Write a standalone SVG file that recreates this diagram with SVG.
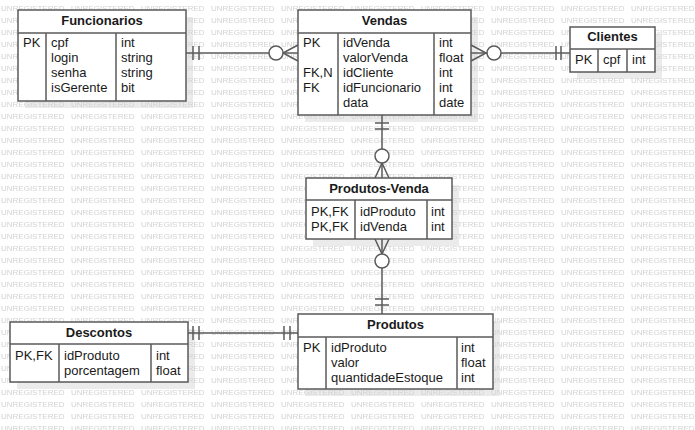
<svg xmlns="http://www.w3.org/2000/svg" width="695" height="430" viewBox="0 0 695 430">
<defs>
<pattern id="wm" x="0" y="0" width="70" height="12" patternUnits="userSpaceOnUse">
<text x="1" y="11" font-family="Liberation Sans, Arial, sans-serif" font-size="8" fill="#d2d2d2">UNREGISTERED</text>
</pattern>
<style>
.box{fill:#fff;stroke:#5a5a5a;stroke-width:1.5}
.sh{fill:#ebebeb}
.ln{stroke:#5a5a5a;stroke-width:1.5;fill:none}
.t{font-family:"Liberation Sans",Arial,sans-serif;font-size:13px;fill:#1a1a1a}
.h{font-family:"Liberation Sans",Arial,sans-serif;font-size:13px;font-weight:bold;fill:#1a1a1a;text-anchor:middle}
.c{fill:#fff;stroke:#5a5a5a;stroke-width:1.5}
</style>
</defs>
<rect width="695" height="430" fill="#fff"/>
<g id="shadows">
<rect class="sh" x="25" y="17" width="168" height="91"/>
<rect class="sh" x="305" y="17" width="173" height="105"/>
<rect class="sh" x="577" y="34" width="85" height="45"/>
<rect class="sh" x="313" y="185" width="146" height="61"/>
<rect class="sh" x="17" y="329" width="178" height="60"/>
<rect class="sh" x="305" y="321" width="195" height="75"/>
</g>
<rect width="695" height="430" fill="url(#wm)"/>
<g id="connectors">
<line class="ln" x1="186" y1="53" x2="298" y2="53"/>
<line class="ln" x1="193" y1="46" x2="193" y2="60"/>
<line class="ln" x1="199" y1="46" x2="199" y2="60"/>
<polyline class="ln" points="298,45 283,53 298,61"/>
<circle class="c" cx="276" cy="53" r="7"/>
<line class="ln" x1="471" y1="53" x2="570" y2="53"/>
<polyline class="ln" points="471,45 486,53 471,61"/>
<circle class="c" cx="494" cy="53" r="7"/>
<line class="ln" x1="556" y1="46" x2="556" y2="60"/>
<line class="ln" x1="561" y1="46" x2="561" y2="60"/>
<line class="ln" x1="382" y1="115" x2="382" y2="178"/>
<line class="ln" x1="375" y1="123" x2="389" y2="123"/>
<line class="ln" x1="375" y1="129" x2="389" y2="129"/>
<polyline class="ln" points="375,178 382,163 389,178"/>
<circle class="c" cx="382" cy="156" r="7"/>
<line class="ln" x1="382" y1="239" x2="382" y2="314"/>
<polyline class="ln" points="375,239 382,254 389,239"/>
<circle class="c" cx="382" cy="261" r="7"/>
<line class="ln" x1="375" y1="299" x2="389" y2="299"/>
<line class="ln" x1="375" y1="305" x2="389" y2="305"/>
<line class="ln" x1="188" y1="333" x2="298" y2="333"/>
<line class="ln" x1="193" y1="326" x2="193" y2="340"/>
<line class="ln" x1="199" y1="326" x2="199" y2="340"/>
<line class="ln" x1="284" y1="326" x2="284" y2="340"/>
<line class="ln" x1="290" y1="326" x2="290" y2="340"/>
</g>
<g id="Funcionarios">
<rect class="box" x="18" y="10" width="168" height="91"/>
<line class="ln" x1="18" y1="33" x2="186" y2="33"/>
<line class="ln" x1="46" y1="33" x2="46" y2="101"/>
<line class="ln" x1="116" y1="33" x2="116" y2="101"/>
<text class="h" x="102" y="25">Funcionarios</text>
<text class="t" x="23" y="47">PK</text>
<text class="t" x="51" y="47">cpf</text>
<text class="t" x="51" y="62">login</text>
<text class="t" x="51" y="77">senha</text>
<text class="t" x="51" y="92">isGerente</text>
<text class="t" x="121" y="47">int</text>
<text class="t" x="121" y="62">string</text>
<text class="t" x="121" y="77">string</text>
<text class="t" x="121" y="92">bit</text>
</g>
<g id="Vendas">
<rect class="box" x="298" y="10" width="173" height="105"/>
<line class="ln" x1="298" y1="33" x2="471" y2="33"/>
<line class="ln" x1="338" y1="33" x2="338" y2="115"/>
<line class="ln" x1="434" y1="33" x2="434" y2="115"/>
<text class="h" x="384.5" y="25">Vendas</text>
<text class="t" x="303" y="47">PK</text>
<text class="t" x="303" y="77">FK,N</text>
<text class="t" x="303" y="92">FK</text>
<text class="t" x="343" y="47">idVenda</text>
<text class="t" x="343" y="62">valorVenda</text>
<text class="t" x="343" y="77">idCliente</text>
<text class="t" x="343" y="92">idFuncionario</text>
<text class="t" x="343" y="107">data</text>
<text class="t" x="439" y="47">int</text>
<text class="t" x="439" y="62">float</text>
<text class="t" x="439" y="77">int</text>
<text class="t" x="439" y="92">int</text>
<text class="t" x="439" y="107">date</text>
</g>
<g id="Clientes">
<rect class="box" x="570" y="27" width="85" height="45"/>
<line class="ln" x1="570" y1="49" x2="655" y2="49"/>
<line class="ln" x1="598" y1="49" x2="598" y2="72"/>
<line class="ln" x1="627" y1="49" x2="627" y2="72"/>
<text class="h" x="612.5" y="41">Clientes</text>
<text class="t" x="575" y="64">PK</text>
<text class="t" x="603" y="64">cpf</text>
<text class="t" x="632" y="64">int</text>
</g>
<g id="Produtos-Venda">
<rect class="box" x="306" y="178" width="146" height="61"/>
<line class="ln" x1="306" y1="200" x2="452" y2="200"/>
<line class="ln" x1="355" y1="200" x2="355" y2="239"/>
<line class="ln" x1="427" y1="200" x2="427" y2="239"/>
<text class="h" x="379" y="193">Produtos-Venda</text>
<text class="t" x="311" y="216">PK,FK</text>
<text class="t" x="311" y="231">PK,FK</text>
<text class="t" x="360" y="216">idProduto</text>
<text class="t" x="360" y="231">idVenda</text>
<text class="t" x="431" y="216">int</text>
<text class="t" x="431" y="231">int</text>
</g>
<g id="Descontos">
<rect class="box" x="10" y="322" width="178" height="60"/>
<line class="ln" x1="10" y1="344" x2="188" y2="344"/>
<line class="ln" x1="59" y1="344" x2="59" y2="382"/>
<line class="ln" x1="151" y1="344" x2="151" y2="382"/>
<text class="h" x="99" y="337">Descontos</text>
<text class="t" x="15" y="360">PK,FK</text>
<text class="t" x="64" y="360">idProduto</text>
<text class="t" x="64" y="375">porcentagem</text>
<text class="t" x="156" y="360">int</text>
<text class="t" x="156" y="375">float</text>
</g>
<g id="Produtos">
<rect class="box" x="298" y="314" width="195" height="75"/>
<line class="ln" x1="298" y1="337" x2="493" y2="337"/>
<line class="ln" x1="326" y1="337" x2="326" y2="389"/>
<line class="ln" x1="457" y1="337" x2="457" y2="389"/>
<text class="h" x="395.5" y="329">Produtos</text>
<text class="t" x="303" y="352">PK</text>
<text class="t" x="331" y="352">idProduto</text>
<text class="t" x="331" y="367">valor</text>
<text class="t" x="331" y="382">quantidadeEstoque</text>
<text class="t" x="461" y="352">int</text>
<text class="t" x="461" y="367">float</text>
<text class="t" x="461" y="382">int</text>
</g>
</svg>
